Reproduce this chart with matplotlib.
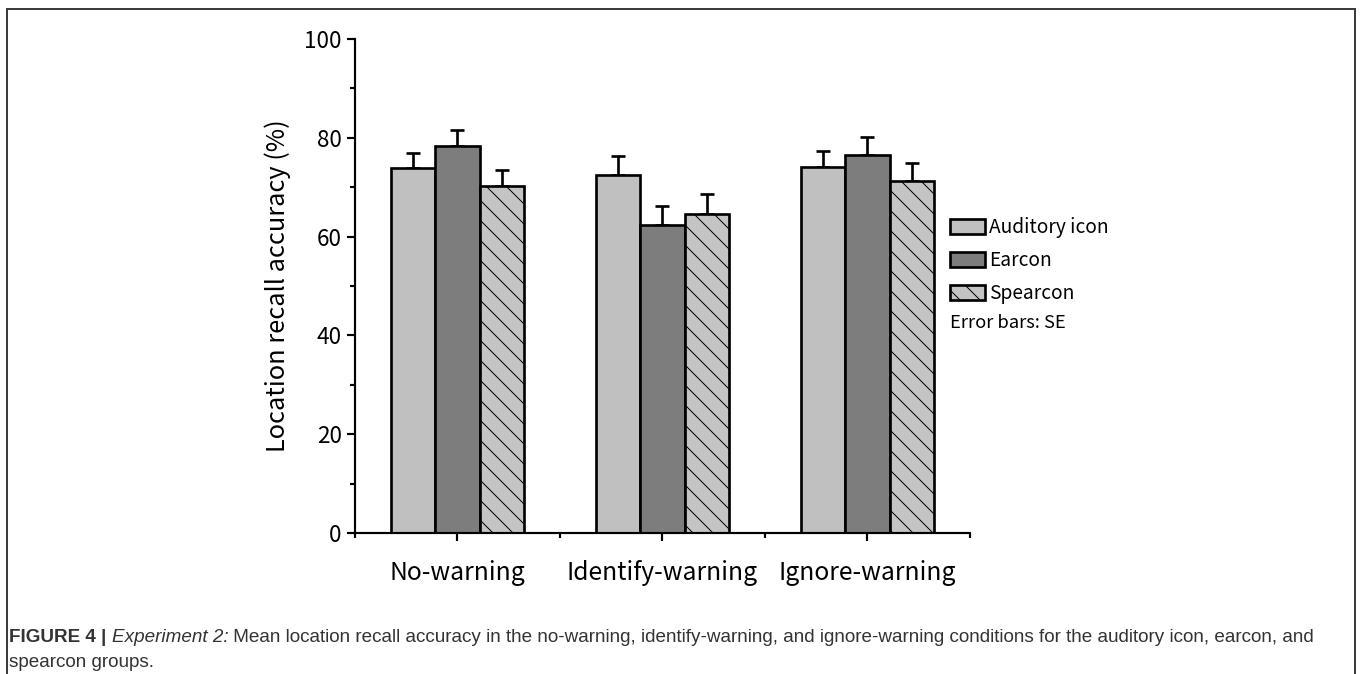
import numpy as np
import matplotlib.pyplot as plt
from matplotlib.lines import Line2D
from matplotlib.ticker import MultipleLocator, FixedLocator

plt.rcParams['font.family'] = ['Noto Sans CJK SC', 'DejaVu Sans']
plt.rcParams['hatch.linewidth'] = 0.6
plt.rcParams['hatch.color'] = '#3a3a3a'

conditions = ['No-warning', 'Identify-warning', 'Ignore-warning']
groups = ['Auditory icon', 'Earcon', 'Spearcon']
auditory = [73.8, 72.4, 74.0]
earcon = [78.3, 62.3, 76.6]
spearcon = [70.2, 64.5, 71.3]
auditory_se = [3.2, 3.9, 3.4]
earcon_se = [3.2, 3.9, 3.5]
spearcon_se = [3.3, 4.1, 3.6]

means = [auditory, earcon, spearcon]
ses = [auditory_se, earcon_se, spearcon_se]
faces = ['#c0c0c0', '#7d7d7d', '#c4c4c4']
hatches = [None, None, '\\\\']

fig = plt.figure(figsize=(1360 / 120, 674 / 120), dpi=120)
ax = fig.add_axes([0.261, 0.2092, 0.4522, 0.7329])

x = np.arange(len(conditions))
w = 0.2174
handles = []
for i in range(3):
    pos = x + (i - 1) * w
    b = ax.bar(pos, means[i], width=w, color=faces[i], edgecolor='black',
               linewidth=1.6, hatch=hatches[i], label=groups[i], zorder=2)
    handles.append(b)
    ax.errorbar(pos, means[i], yerr=[np.zeros(3), ses[i]], fmt='none',
                ecolor='black', elinewidth=1.6, capsize=4.2, capthick=1.6,
                zorder=1)

ax.set_xlim(-0.5, 2.5)
ax.set_ylim(0, 100)
ax.yaxis.set_major_locator(MultipleLocator(20))
ax.yaxis.set_minor_locator(MultipleLocator(10))
ax.xaxis.set_major_locator(FixedLocator(x))
ax.xaxis.set_minor_locator(FixedLocator([-0.5, 0.5, 1.5, 2.5]))
ax.set_xticklabels(conditions)
for side in ['top', 'right']:
    ax.spines[side].set_visible(False)
for side in ['left', 'bottom']:
    ax.spines[side].set_linewidth(1.3)
ax.tick_params(which='major', length=5, width=1.3, labelsize=13.5, pad=3)
ax.tick_params(which='minor', length=3, width=1.3)
ax.tick_params(axis='x', which='major', pad=11, labelsize=14.8)
ax.set_ylabel('Location recall accuracy (%)', fontsize=15.2, labelpad=8)

leg = fig.legend(handles=handles, labels=groups, loc='upper left',
                 bbox_to_anchor=(0.686, 0.703), frameon=False, fontsize=11.5,
                 handlelength=1.83, handleheight=0.8, handletextpad=0.18,
                 labelspacing=0.62)
fig.text(0.6985, 0.5204, 'Error bars: SE', fontsize=11, va='center')

# outer frame around the figure panel
frame_kw = dict(color='#3c3c3c', linewidth=1.2, transform=fig.transFigure)
fig.add_artist(Line2D([0.005, 0.005], [0.0, 0.987], **frame_kw))
fig.add_artist(Line2D([0.005, 0.9965], [0.987, 0.987], **frame_kw))
fig.add_artist(Line2D([0.9965, 0.9965], [0.0, 0.987], **frame_kw))

# caption, mixed styles laid end to end
cap_kw = dict(fontsize=11.3, family='Liberation Sans', color='#333333')
t1 = fig.text(0.0068, 0.047, 'FIGURE 4 | ', fontweight='bold', va='baseline', **cap_kw)
t2 = fig.text(0, 0, 'Experiment 2:', style='italic', va='baseline', **cap_kw)
t3 = fig.text(0, 0, ' Mean location recall accuracy in the no-warning, identify-warning, '
              'and ignore-warning conditions for the auditory icon, earcon, and',
              va='baseline', **cap_kw)
fig.text(0.0068, 0.011, 'spearcon groups.', va='baseline', **cap_kw)

fig.canvas.draw()
r = fig.canvas.get_renderer()
inv = fig.transFigure.inverted()
x1 = inv.transform((t1.get_window_extent(r).x1, 0))[0]
t2.set_position((x1, 0.047))
fig.canvas.draw()
x2 = inv.transform((t2.get_window_extent(r).x1, 0))[0]
t3.set_position((x2, 0.047))

fig.savefig('out.png', dpi=120)
